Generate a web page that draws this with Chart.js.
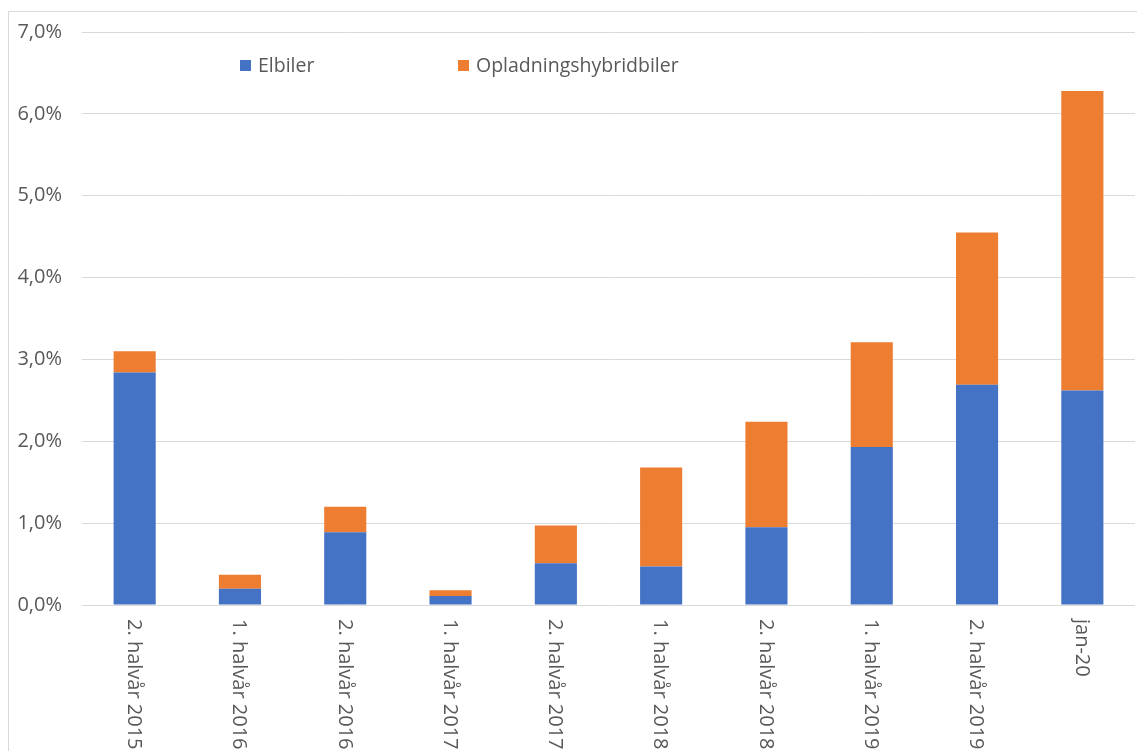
<!DOCTYPE html>
<html>
<head>
<meta charset="utf-8">
<script src="https://cdn.jsdelivr.net/npm/chart.js@4.4.1/dist/chart.umd.min.js"></script>
<style>
  html, body { margin: 0; padding: 0; background: #fff; overflow: hidden; }
  #wrap { position: relative; width: 1137px; height: 751px; }
</style>
</head>
<body>
<div id="wrap"><canvas id="andelChart" width="1137" height="751"></canvas></div>
<script>
// kategorier og andele (procent af nybilsalg)
const kategorier = ['2. halvår 2015', '1. halvår 2016', '2. halvår 2016', '1. halvår 2017', '2. halvår 2017',
    '1. halvår 2018', '2. halvår 2018', '1. halvår 2019', '2. halvår 2019', 'jan-20'];
const elbiler = [2.84, 0.20, 0.89, 0.11, 0.51, 0.47, 0.95, 1.93, 2.69, 2.62];
const hybridbiler = [0.26, 0.17, 0.31, 0.07, 0.46, 1.21, 1.29, 1.28, 1.86, 3.66];
const yTicks = [0, 1, 2, 3, 4, 5, 6, 7];

const tekstFarve = '#595959';
const fontNavn = '"Open Sans", sans-serif';

// tegner ramme, legende og de drejede kategori-labels
const tegnTekst = {
    id: 'tegnTekst',
    beforeDraw(chart) {
        const ctx = chart.ctx;
        ctx.save();
        ctx.strokeStyle = '#d9d9d9';
        ctx.lineWidth = 1;
        ctx.strokeRect(8.5, 11.5, 1300, 1000);
        ctx.restore();
    },
    afterDraw(chart) {
        const ctx = chart.ctx;
        const xs = chart.scales.x;
        const nul = chart.scales.y.getPixelForValue(0);

        ctx.save();
        ctx.font = '20px ' + fontNavn;
        ctx.fillStyle = tekstFarve;
        ctx.textAlign = 'left';
        ctx.textBaseline = 'middle';
        kategorier.forEach((lbl, i) => {
            ctx.save();
            ctx.translate(xs.getPixelForValue(i) - 1, nul + 14);
            ctx.rotate(Math.PI / 2);
            ctx.fillText(lbl, 0, 0);
            ctx.restore();
        });

        // legende
        ctx.font = '19.5px ' + fontNavn;
        const poster = [[240, 0], [458, 1]];
        poster.forEach(([x, i]) => {
            const ds = chart.data.datasets[i];
            ctx.fillStyle = ds.backgroundColor;
            ctx.fillRect(x, 60, 11, 11);
            ctx.fillStyle = tekstFarve;
            ctx.fillText(ds.label, x + 18, 66);
        });
        ctx.restore();
    }
};

new Chart(document.getElementById('andelChart'), {
    type: 'bar',
    data: {
        labels: kategorier,
        datasets: [{
            label: 'Elbiler',
            data: elbiler,
            backgroundColor: '#4472C4'
        }, {
            label: 'Opladningshybridbiler',
            data: hybridbiler,
            backgroundColor: '#ED7D31'
        }]
    },
    options: {
        responsive: false,
        animation: false,
        layout: { padding: { top: 32, bottom: 138, right: 2, left: 0 } },
        datasets: { bar: { categoryPercentage: 1, barPercentage: 0.4 } },
        plugins: { legend: { display: false }, tooltip: { enabled: false } },
        scales: {
            x: {
                stacked: true,
                grid: { display: false },
                border: { display: false },
                ticks: { display: false }
            },
            y: {
                stacked: true,
                min: 0,
                max: 7,
                afterBuildTicks: (scale) => { scale.ticks = yTicks.map(v => ({ value: v })); },
                afterFit: (scale) => { scale.width = 82; },
                grid: { color: '#d9d9d9', drawTicks: false },
                border: { display: false },
                ticks: {
                    padding: 20,
                    color: tekstFarve,
                    font: { family: fontNavn, size: 20 },
                    callback: v => v.toFixed(1).replace('.', ',') + '%'
                }
            }
        }
    },
    plugins: [tegnTekst]
});
</script>
</body>
</html>
